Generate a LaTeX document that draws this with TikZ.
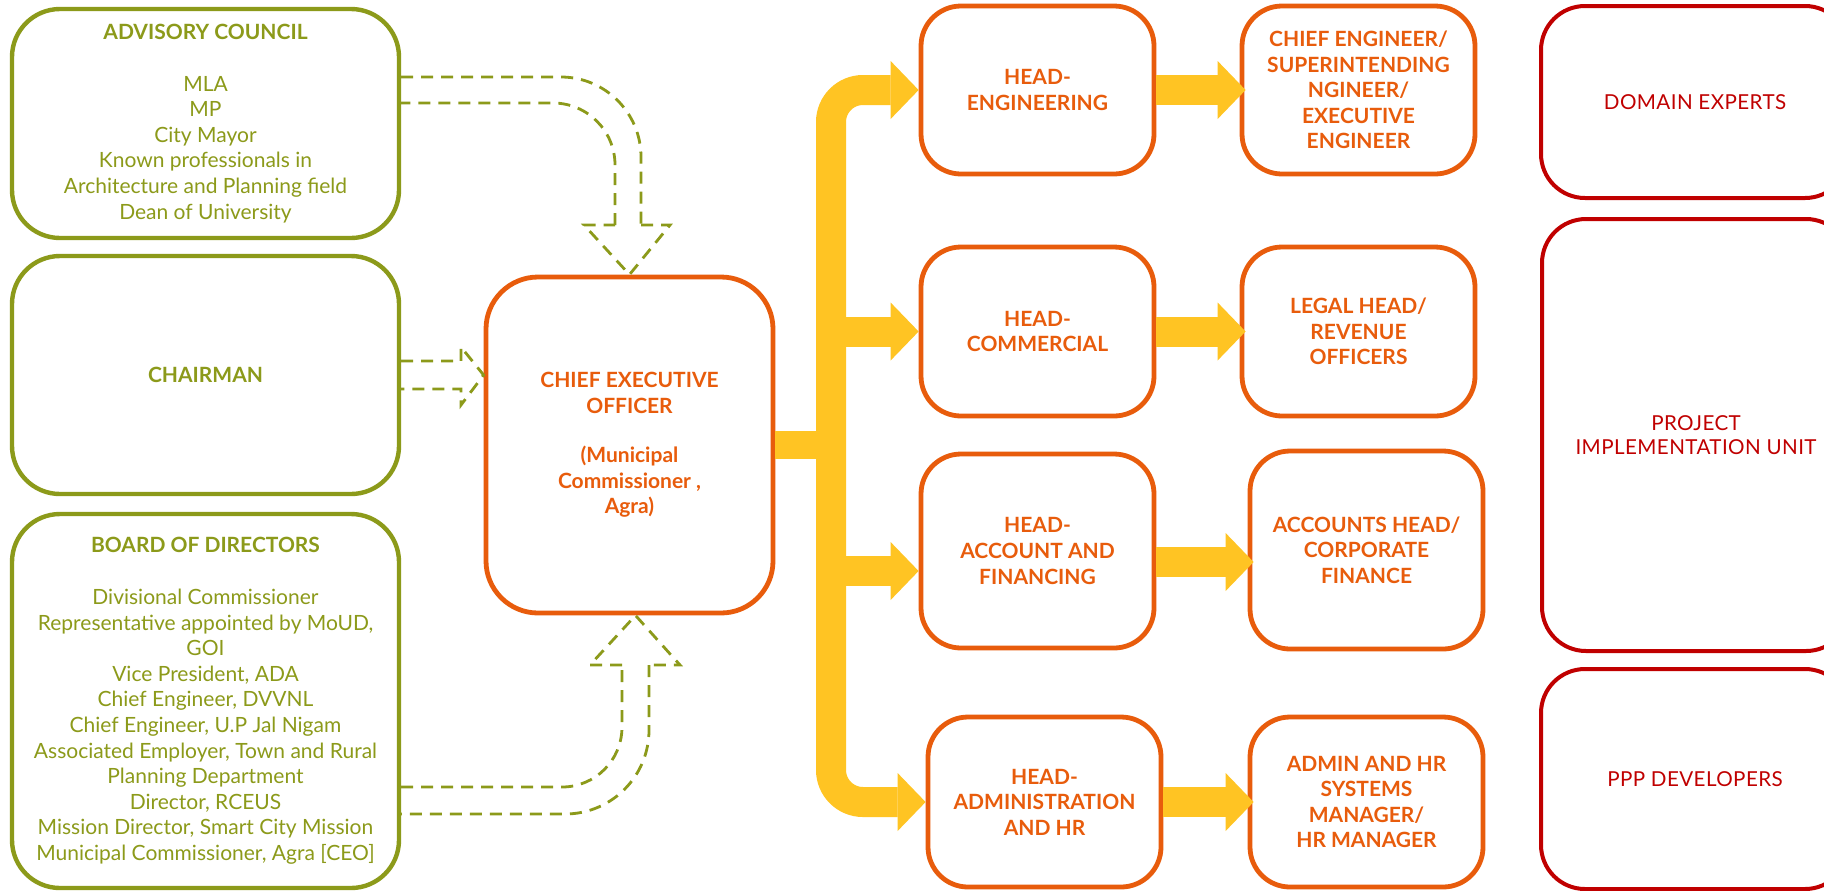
\documentclass[tikz,border=0pt]{standalone}
\usepackage{fontspec}
\setmainfont{Lato}
\usetikzlibrary{arrows.meta}
\definecolor{councilgreen}{RGB}{140,154,26}
\definecolor{officeorange}{RGB}{232,92,12}
\definecolor{unitred}{RGB}{192,0,0}
\definecolor{baryellow}{RGB}{255,196,35}
\begin{document}
\begin{tikzpicture}[x=0.5pt, y=-0.5pt,
  greenbox/.style={draw=councilgreen, line width=2.2pt, rounded corners=24pt,
    text=councilgreen, align=center, inner sep=0pt,
    font=\fontsize{10.5}{12.8}\selectfont},
  orangebox/.style={draw=officeorange, line width=2.4pt, rounded corners=20pt,
    text=officeorange, align=center, inner sep=0pt,
    font=\bfseries\fontsize{10.5}{12.8}\selectfont},
  redbox/.style={draw=unitred, line width=2pt, rounded corners=22pt,
    text=unitred, align=center, inner sep=0pt,
    font=\fontsize{10.3}{12}\selectfont\addfontfeature{LetterSpace=2}},
  dasharrow/.style={draw=councilgreen, line width=1.4pt, dash pattern=on 6pt off 4pt},
  yellowbar/.style={draw=baryellow, line width=15pt},
  yellowarrow/.style={yellowbar, -{Triangle[length=14pt,width=29pt,line width=0pt]}}
]

        \path[use as bounding box, clip] (0,0) rectangle (1824,890);
        \fill[white] (0,0) rectangle (1824,890);

        \begin{scope}[every node/.style={greenbox, minimum width=193.5pt}]
          \node[minimum height=114.5pt] (adv)   at (205.5,123.5) {\textbf{ADVISORY COUNCIL}\\[13pt]MLA\\MP\\City Mayor\\Known professionals in\\Architecture and Planning field\\Dean of University};
          \node[minimum height=119pt]   (chair) at (205.5,375)   {\textbf{CHAIRMAN}};
          \node[minimum height=187pt]   (board) at (205.5,701)   {\textbf{BOARD OF DIRECTORS}\\[13pt]Divisional Commissioner\\Representative appointed by MoUD,\\GOI\\Vice President, ADA\\Chief Engineer, DVVNL\\Chief Engineer, U.P Jal Nigam\\Associated Employer, Town and Rural\\Planning Department\\Director, RCEUS\\Mission Director, Smart City Mission\\Municipal Commissioner, Agra [CEO]};
        \end{scope}

        \node[orangebox, minimum width=143.5pt, minimum height=168pt, rounded corners=26pt] (ceo) at (629.5,445) {CHIEF EXECUTIVE\\OFFICER\\[12pt](Municipal\\Commissioner ,\\Agra)};

        \begin{scope}[every node/.style={orangebox, minimum width=116.5pt}]
          \node[minimum height=84pt]   (heng)  at (1037.5,90)    {HEAD-\\ENGINEERING};
          \node[minimum height=84pt]   (ceng)  at (1358.5,90)    {CHIEF ENGINEER/\\SUPERINTENDING\\NGINEER/\\EXECUTIVE\\ENGINEER};
          \node[minimum height=84.5pt] (hcom)  at (1037.5,331.5) {HEAD-\\COMMERCIAL};
          \node[minimum height=84.5pt] (legal) at (1358.5,331.5) {LEGAL HEAD/\\REVENUE\\OFFICERS};
          \node[minimum height=97pt]   (hacc)  at (1037.5,551)   {HEAD-\\ACCOUNT AND\\FINANCING};
          \node[minimum height=99pt]   (accts) at (1366.5,550)   {ACCOUNTS HEAD/\\CORPORATE\\FINANCE};
          \node[minimum height=85pt]   (hadm)  at (1044.5,802)   {HEAD-\\ADMINISTRATION\\AND HR};
          \node[minimum height=85pt]   (admhr) at (1366.5,802)   {ADMIN AND HR\\SYSTEMS\\MANAGER/\\HR MANAGER};
        \end{scope}

        \begin{scope}[every node/.style={redbox, minimum width=154pt}]
          \node[minimum height=96pt]  (dom) at (1695,102) {DOMAIN EXPERTS};
          \node[minimum height=216pt] (piu) at (1696,435) {PROJECT\\IMPLEMENTATION UNIT};
          \node[minimum height=110pt] (ppp) at (1695,779) {PPP DEVELOPERS};
        \end{scope}

        \draw[dasharrow, rounded corners=40pt] (adv.east |- 0,77) -- (641,77) -- (641,225);
        \draw[dasharrow] (641,225) -- (670,225) -- (ceo.north) -- (584,225) -- (615,225);
        \draw[dasharrow, rounded corners=31pt] (615,225) -- (615,103) -- (adv.east |- 0,103);

        \draw[dasharrow] (chair.east |- 0,361) -- (461,361) -- (461,347) -- (ceo.west |- chair.east)
          -- (461,405) -- (461,389) -- (chair.east |- 0,389);

        \draw[dasharrow, rounded corners=30pt] (board.east |- 0,787) -- (622,787) -- (622,665);
        \draw[dasharrow] (622,665) -- (590,665) -- ([xshift=3pt]ceo.south) -- (680,665) -- (649,665);
        \draw[dasharrow, rounded corners=42pt] (649,665) -- (649,814) -- (board.east |- 0,814);

        \coordinate (fork) at (831,702);
        \draw[yellowbar, line width=14pt] (ceo.east) -- (ceo.east -| fork);
        \draw[yellowarrow, rounded corners=16pt] (fork) |- (heng.west);
        \draw[yellowarrow, rounded corners=16pt] (fork) |- (hadm.west);
        \draw[yellowarrow] (fork |- hcom.west) -- (hcom.west);
        \draw[yellowarrow] ([yshift=-10pt]hacc.west -| fork) -- ([yshift=-10pt]hacc.west);

        \begin{scope}[every path/.style={shorten >=-3pt}]
          \draw[yellowarrow] (heng.east) -- (ceng.west);
          \draw[yellowarrow] (hcom.east) -- (legal.west);
          \draw[yellowarrow] ([yshift=-5.5pt]hacc.east) -- ([yshift=-5.5pt]hacc.east -| accts.west);
          \draw[yellowarrow] (hadm.east) -- (admhr.west);
        \end{scope}

\end{tikzpicture}
\end{document}
